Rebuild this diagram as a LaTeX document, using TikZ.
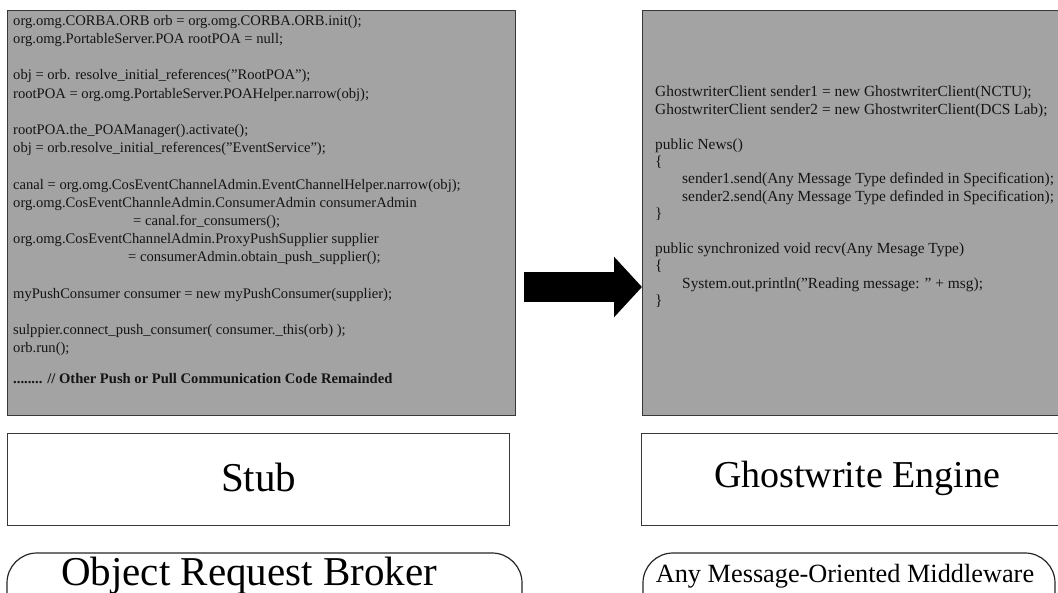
\documentclass[tikz,border=0pt]{standalone}
\usepackage{fontspec}
\setmainfont{Liberation Serif}
\usetikzlibrary{arrows.meta,calc}

\tikzset{
  panel/.style={draw=black!78, line width=1.4pt, fill=black!36, inner sep=0pt, anchor=north west},
  layerbox/.style={draw=black!78, line width=1.2pt, fill=white, inner sep=0pt, anchor=north west},
  layerpill/.style={draw=black!85, line width=1.2pt, rounded corners=30pt},
  code/.style={inner sep=0pt, anchor=north west, align=left, text=black!92,
               font=\fontsize{14.6}{18.2}\selectfont},
  codewide/.style={code, font=\fontsize{15.4}{17.4}\selectfont},
  biglabel/.style={inner sep=0pt, font=\fontsize{41}{46}\selectfont},
  enginelabel/.style={inner sep=0pt, font=\fontsize{38}{44}\selectfont},
  midlabel/.style={inner sep=0pt, font=\fontsize{26.3}{30}\selectfont},
  blockarrow/.style={line width=30pt, draw=black, -{Triangle[length=28pt,width=59pt]}}
}

\begin{document}
\begin{tikzpicture}[x=1pt,y=-1pt]
  \useasboundingbox (0,0) rectangle (1058,593);
  \clip (0,0) rectangle (1058,593);

  % upper code panels
  \node[panel, minimum width=508pt, minimum height=405pt] (orbcode) at (7,10) {};
  \node[panel, minimum width=440pt, minimum height=405pt] (mwcode) at (642,10) {};

  \node[code] (orbtext) at (13,15) {%
    org.omg.CORBA.ORB orb = org.omg.CORBA.ORB.init();\\
    org.omg.PortableServer.POA rootPOA = null;\\[18.2pt]
    obj = orb. resolve\_initial\_references("RootPOA");\\
    rootPOA = org.omg.PortableServer.POAHelper.narrow(obj);\\[18.2pt]
    rootPOA.the\_POAManager().activate();\\
    obj = orb.resolve\_initial\_references("EventService");\\[18.2pt]
    canal = org.omg.CosEventChannelAdmin.EventChannelHelper.narrow(obj);\\
    org.omg.CosEventChannleAdmin.ConsumerAdmin consumerAdmin\\
    \hspace*{120pt}= canal.for\_consumers();\\
    org.omg.CosEventChannelAdmin.ProxyPushSupplier supplier\\
    \hspace*{115pt}= consumerAdmin.obtain\_push\_supplier();\\[18.2pt]
    myPushConsumer consumer = new myPushConsumer(supplier);\\[18.2pt]
    sulppier.connect\_push\_consumer( consumer.\_this(orb) );\\
    orb.run();\\[12pt]
    \textbf{........ // Other Push or Pull Communication Code Remainded}};

  \node[codewide] (mwtext) at (655,86) {%
    GhostwriterClient sender1 = new GhostwriterClient(NCTU);\\
    GhostwriterClient sender2 = new GhostwriterClient(DCS Lab);\\[17.4pt]
    public News()\\
    \{\\
    \hspace*{27pt}sender1.send(Any Message Type definded in Specification);\\
    \hspace*{27pt}sender2.send(Any Message Type definded in Specification);\\
    \}\\[17.4pt]
    public synchronized void recv(Any Mesage Type)\\
    \{\\
    \hspace*{27pt}System.out.println("Reading message: " + msg);\\
    \}};

  % block arrow between the panels
  \coordinate (arrowstart) at ($(orbcode.east |- 0,287)+(8,0)$);
  \draw[blockarrow] (arrowstart) -- (arrowstart -| mwcode.west);

  % layer boxes
  \node[layerbox, minimum width=502pt, minimum height=92pt] (stub) at (7,433) {};
  \node[biglabel] at ([yshift=2pt]stub.center) {Stub};
  \node[layerbox, minimum width=440pt, minimum height=92pt] (engine) at (641,433) {};
  \node[enginelabel] at (857,478) {Ghostwrite Engine};

  % middleware layers (their lower edge runs off the page)
  \draw[layerpill] (7,640) rectangle (522,553);
  \node[biglabel] (orb) at (249,576) {Object Request Broker};
  \draw[layerpill] (643,640) rectangle (1055,553);
  \node[midlabel] (mom) at (845,576) {Any Message-Oriented Middleware};
\end{tikzpicture}
\end{document}
